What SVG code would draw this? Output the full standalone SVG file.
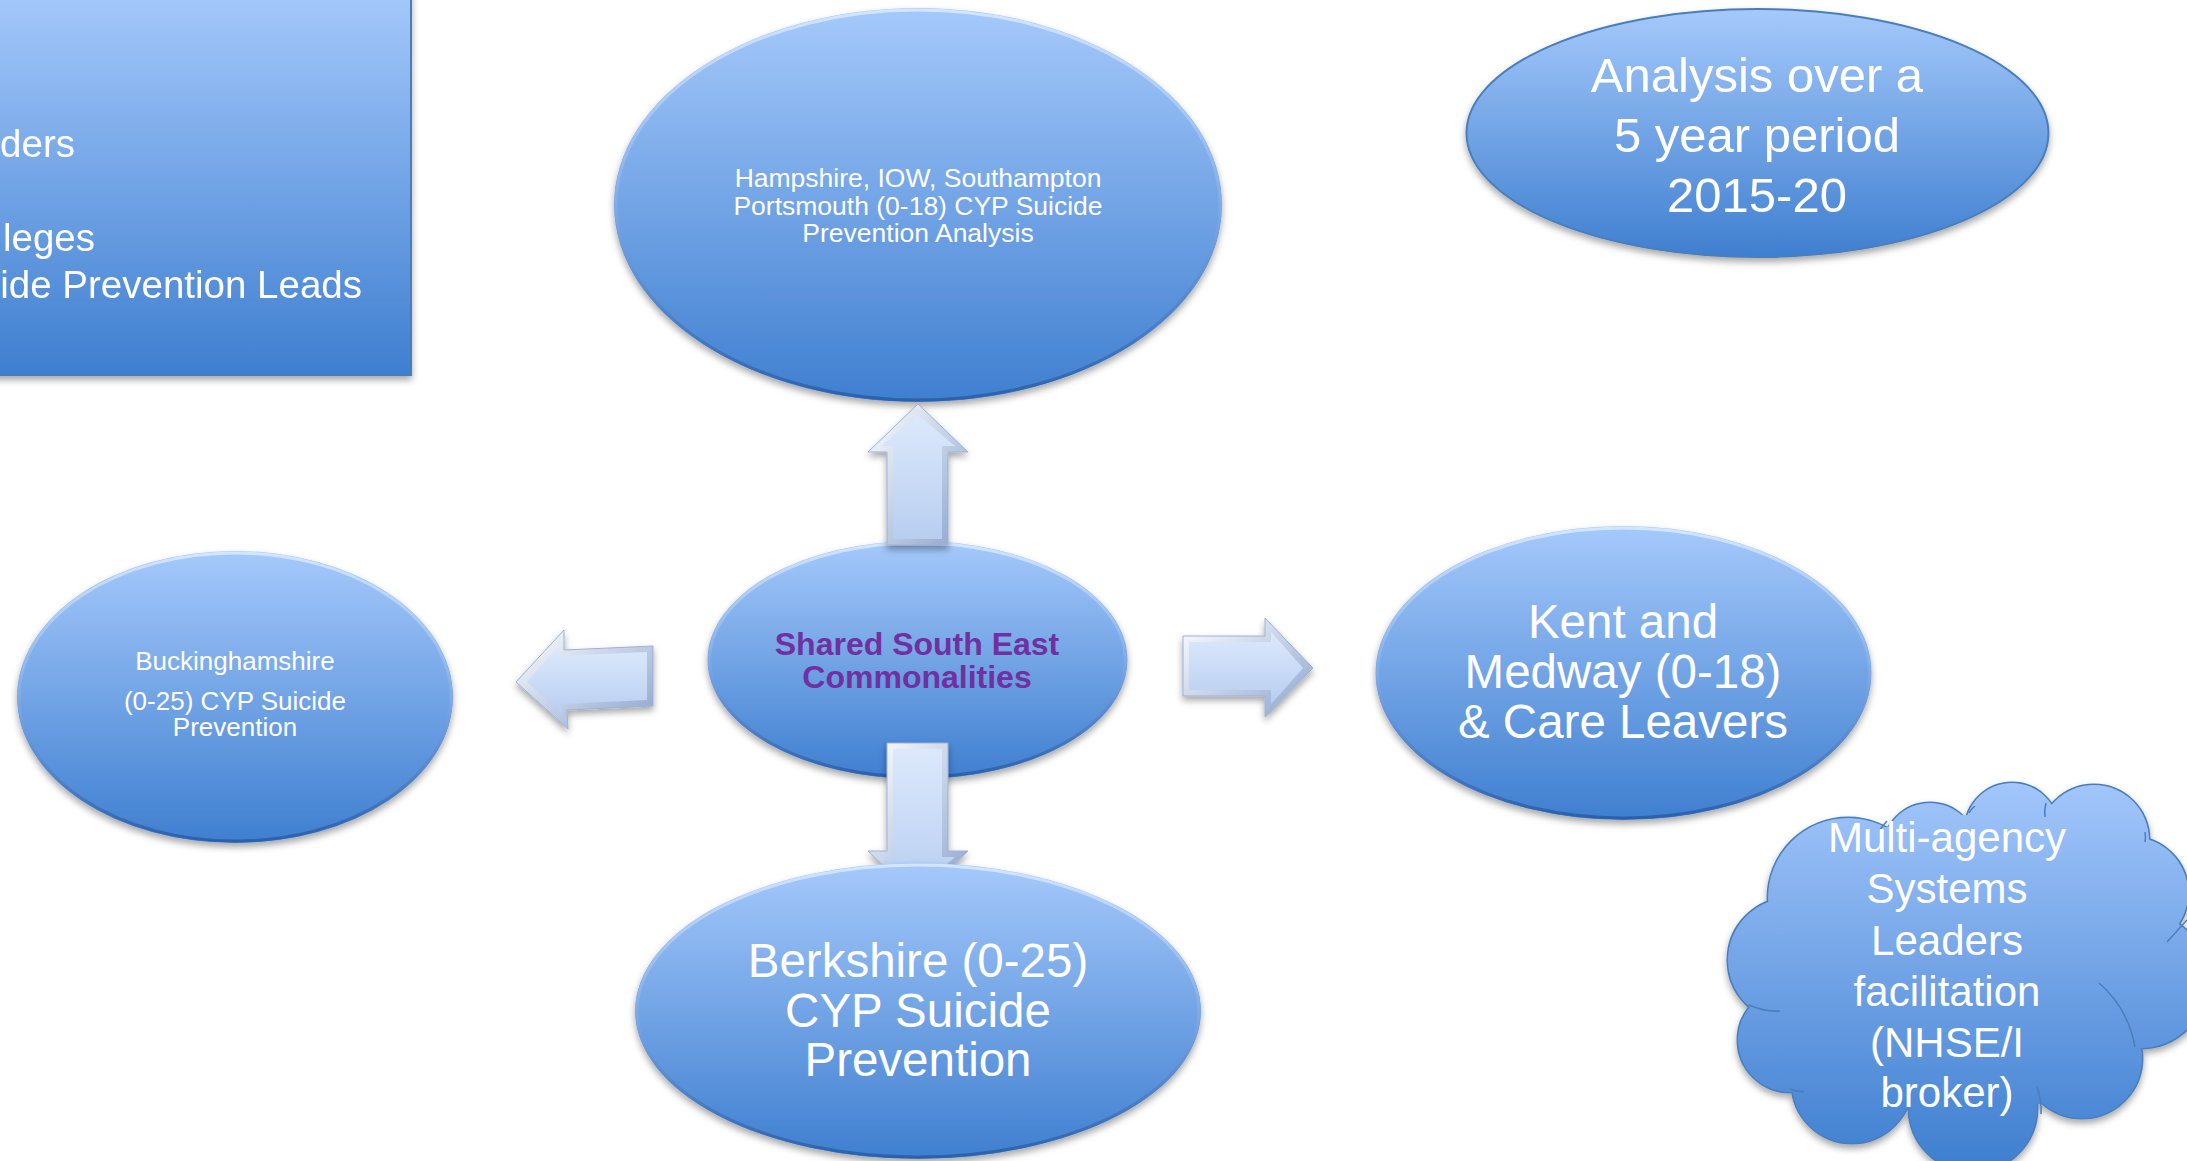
<svg xmlns="http://www.w3.org/2000/svg" width="2187" height="1161" viewBox="0 0 2187 1161">
<defs>
<linearGradient id="gBlue" x1="0" y1="0" x2="0" y2="1"><stop offset="0" stop-color="#a5c9fb"/><stop offset="1" stop-color="#3f7fd0"/></linearGradient>
<linearGradient id="gRim" x1="0" y1="0" x2="0" y2="1"><stop offset="0" stop-color="#d4e6ff"/><stop offset="0.5" stop-color="#80abe8"/><stop offset="1" stop-color="#2c60aa"/></linearGradient>
<linearGradient id="gCloud" gradientUnits="userSpaceOnUse" x1="0" y1="784" x2="0" y2="1165"><stop offset="0" stop-color="#a2c6fb"/><stop offset="1" stop-color="#3f7fd0"/></linearGradient>
<linearGradient id="gBevel" x1="0" y1="0" x2="1" y2="1"><stop offset="0" stop-color="#ffffff"/><stop offset="1" stop-color="#8aa3cd"/></linearGradient>
<linearGradient id="gArrow" x1="0" y1="0" x2="0" y2="1"><stop offset="0" stop-color="#dce9fc"/><stop offset="1" stop-color="#b8cef0"/></linearGradient>
<filter id="shadow" x="-10%" y="-10%" width="120%" height="130%"><feDropShadow dx="0" dy="4" stdDeviation="3.5" flood-color="#000" flood-opacity="0.35"/></filter>
</defs>
<style>
.node{fill:url(#gBlue)}
.rim{fill:none;stroke:url(#gRim);stroke-width:3}
.flat{stroke:#4a7ebb;stroke-width:2}
.t{font-family:"Liberation Sans",Arial,sans-serif;fill:#ffffff;text-anchor:middle}
.tb{font-family:"Liberation Sans",Arial,sans-serif;font-weight:bold;fill:#7030a0;text-anchor:middle;font-size:32px}
.bevel{fill:url(#gBevel);stroke:#9bb1d6;stroke-width:1}
.face{fill:url(#gArrow)}
.cl{fill:url(#gCloud)}
.cls{fill:url(#gCloud);stroke:#4a7ebb;stroke-width:3}
.arc{fill:none;stroke:#4a7ebb;stroke-width:1.5}
</style>

<g id="stakeholders-box" filter="url(#shadow)">
  <rect x="-10" y="-10" width="421" height="385" class="node flat"/>
  <g class="t" style="text-anchor:end;font-size:38.5px">
    <text x="75" y="157">ders</text>
    <text x="95" y="251">leges</text>
    <text x="362" y="298">ide Prevention Leads</text>
  </g>
</g>

<g id="hampshire">
  <ellipse cx="918" cy="205" rx="304" ry="197" class="node" filter="url(#shadow)"/>
  <ellipse cx="918" cy="205" rx="302" ry="195" class="rim"/>
  <g class="t" style="font-size:26.5px">
    <text x="918" y="187">Hampshire, IOW, Southampton</text>
    <text x="918" y="215">Portsmouth (0-18) CYP Suicide</text>
    <text x="918" y="242">Prevention Analysis</text>
  </g>
</g>

<g id="analysis-period">
  <ellipse cx="1757.5" cy="133" rx="291" ry="124" class="node flat" filter="url(#shadow)"/>
  <g class="t" style="font-size:49px">
    <text x="1757" y="92">Analysis over a</text>
    <text x="1757" y="152">5 year period</text>
    <text x="1757" y="212">2015-20</text>
  </g>
</g>

<g id="shared-south-east">
  <ellipse cx="917.5" cy="660" rx="210" ry="119" class="node" filter="url(#shadow)"/>
  <ellipse cx="917.5" cy="660" rx="208" ry="117" class="rim"/>
  <text x="917" y="655" class="tb">Shared South East</text>
  <text x="917" y="688" class="tb">Commonalities</text>
</g>

<g id="buckinghamshire">
  <ellipse cx="235" cy="697" rx="218" ry="146" class="node" filter="url(#shadow)"/>
  <ellipse cx="235" cy="697" rx="216" ry="144" class="rim"/>
  <g class="t" style="font-size:26px">
    <text x="235" y="670">Buckinghamshire</text>
    <text x="235" y="710">(0-25) CYP Suicide</text>
    <text x="235" y="736">Prevention</text>
  </g>
</g>

<g id="kent-medway">
  <ellipse cx="1623.5" cy="673" rx="248" ry="147" class="node" filter="url(#shadow)"/>
  <ellipse cx="1623.5" cy="673" rx="246" ry="145" class="rim"/>
  <g class="t" style="font-size:47.5px">
    <text x="1623" y="638">Kent and</text>
    <text x="1623" y="688">Medway (0-18)</text>
    <text x="1623" y="738">&amp; Care Leavers</text>
  </g>
</g>

<g id="multi-agency-cloud">
  <g filter="url(#shadow)">
    <g class="cls">
      <circle cx="1848" cy="898" r="80"/>
      <circle cx="1930" cy="850" r="47"/>
      <circle cx="2012" cy="830" r="47"/>
      <circle cx="2094" cy="840" r="55"/>
      <circle cx="2132" cy="893" r="56"/>
      <circle cx="2140" cy="980" r="68"/>
      <circle cx="2082" cy="1058" r="60"/>
      <circle cx="1973" cy="1108" r="64"/>
      <circle cx="1852" cy="1083" r="60"/>
      <circle cx="1790" cy="1040" r="52"/>
      <circle cx="1790" cy="960" r="62"/>
    </g>
    <g class="cl">
      <circle cx="1848" cy="898" r="80"/>
      <circle cx="1930" cy="850" r="47"/>
      <circle cx="2012" cy="830" r="47"/>
      <circle cx="2094" cy="840" r="55"/>
      <circle cx="2132" cy="893" r="56"/>
      <circle cx="2140" cy="980" r="68"/>
      <circle cx="2082" cy="1058" r="60"/>
      <circle cx="1973" cy="1108" r="64"/>
      <circle cx="1852" cy="1083" r="60"/>
      <circle cx="1790" cy="1040" r="52"/>
      <circle cx="1790" cy="960" r="62"/>
      <ellipse cx="1965" cy="965" rx="200" ry="150"/>
    </g>
  </g>
  <path class="arc" d="M1749 1005 Q1765 1012 1780 1011"/>
  <path class="arc" d="M1790 1089 Q1797 1092 1804 1092"/>
  <path class="arc" d="M2037 1087 Q2042 1100 2041 1114"/>
  <path class="arc" d="M2099 983 Q2128 1008 2135 1047"/>
  <path class="arc" d="M2167 942 Q2178 930 2187 920"/>
  <path class="arc" d="M2145 832 Q2146 837 2145 842"/>
  <path class="arc" d="M2045 817 Q2044 810 2046 803"/>
  <path class="arc" d="M1969 813 Q1971 809 1975 806"/>
  <path class="arc" d="M1880 830 Q1883 825 1887 821"/>
  <g class="t" style="font-size:42px">
    <text x="1947" y="852">Multi-agency</text>
    <text x="1947" y="903">Systems</text>
    <text x="1947" y="955">Leaders</text>
    <text x="1947" y="1006">facilitation</text>
    <text x="1947" y="1057">(NHSE/I</text>
    <text x="1947" y="1107">broker)</text>
  </g>
</g>

<g id="connectors">
  <g id="arrow-up" filter="url(#shadow)">
    <polygon class="bevel" points="918,404 968,452 948,452 948,545 887,545 887,452 868,452"/>
    <polygon class="face" points="918,415 955,446 942,446 942,539 893,539 893,446 881,446"/>
  </g>
  <g id="arrow-down" filter="url(#shadow)">
    <polygon class="bevel" points="887,743 948,743 948,851 968,851 918,899 868,851 887,851"/>
    <polygon class="face" points="893,749 942,749 942,857 955,857 918,889 881,857 893,857"/>
  </g>
  <g id="arrow-right" filter="url(#shadow)">
    <polygon class="bevel" points="1183,636 1265,636 1265,618 1313,668 1265,717 1265,696 1183,696"/>
    <polygon class="face" points="1189,642 1271,642 1271,632 1303,668 1271,704 1271,690 1189,690"/>
  </g>
  <g id="arrow-left" filter="url(#shadow)">
    <polygon class="bevel" points="516,682 564,630 564,650 653,646 653,706 567,710 568,729"/>
    <polygon class="face" points="527,682 558,647 558,656 647,652 647,700 561,704 562,714"/>
  </g>
</g>

<g id="berkshire">
  <ellipse cx="918" cy="1011" rx="283" ry="148" class="node" filter="url(#shadow)"/>
  <ellipse cx="918" cy="1011" rx="281" ry="146" class="rim"/>
  <g class="t" style="font-size:47.5px">
    <text x="918" y="977">Berkshire (0-25)</text>
    <text x="918" y="1027">CYP Suicide</text>
    <text x="918" y="1076">Prevention</text>
  </g>
</g>
</svg>
